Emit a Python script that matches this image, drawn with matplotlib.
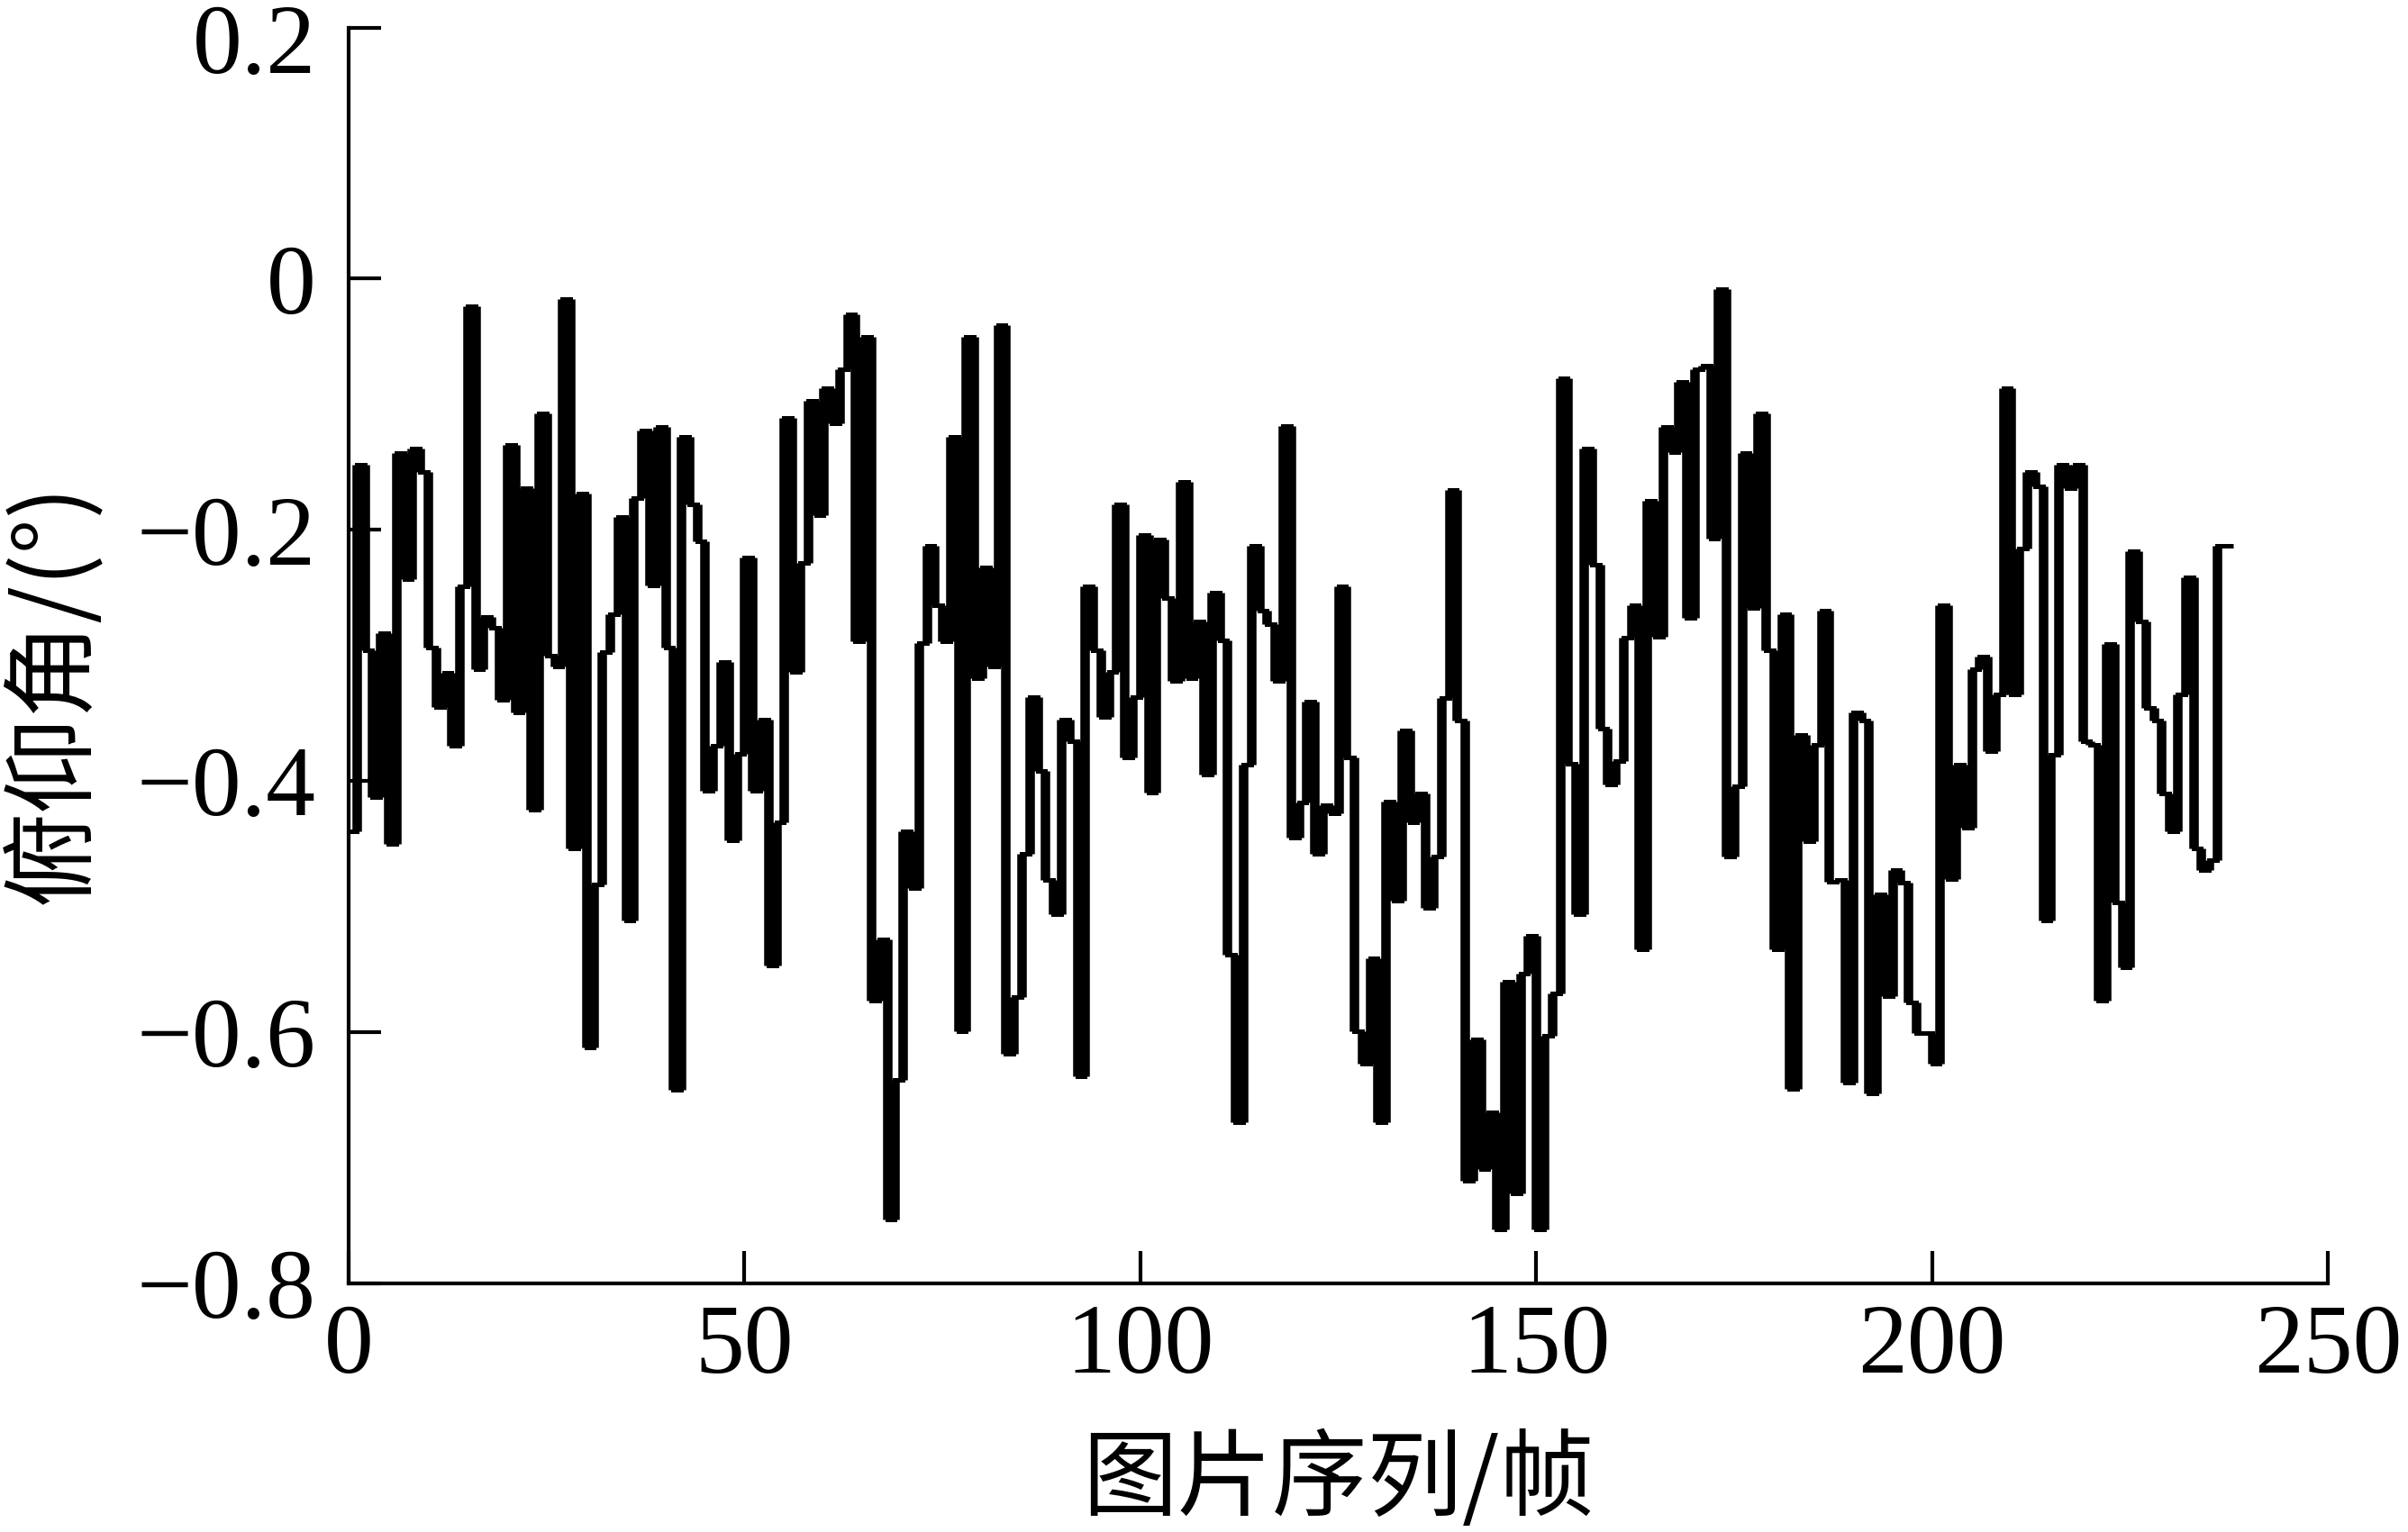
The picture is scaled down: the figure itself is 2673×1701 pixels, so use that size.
"""Pitch angle of each image frame, drawn as a stair line."""

import matplotlib

matplotlib.use("Agg")
import numpy as np
from matplotlib import pyplot as plt
from matplotlib import transforms as mtransforms

# pitch angle (deg) for frames 0..237
PITCH_DEG = [
    -0.440, -0.148, -0.296, -0.413, -0.282, -0.450, -0.139, -0.239, -0.135, -0.154,
    -0.294, -0.341, -0.314, -0.372, -0.245, -0.022, -0.311, -0.269, -0.278, -0.335,
    -0.132, -0.345, -0.167, -0.423, -0.107, -0.300, -0.309, -0.016, -0.454, -0.171,
    -0.612, -0.482, -0.297, -0.267, -0.190, -0.511, -0.175, -0.121, -0.244, -0.118,
    -0.294, -0.646, -0.126, -0.180, -0.209, -0.408, -0.372, -0.305, -0.447, -0.378,
    -0.222, -0.408, -0.351, -0.547, -0.433, -0.111, -0.313, -0.226, -0.097, -0.188,
    -0.087, -0.115, -0.072, -0.028, -0.289, -0.046, -0.575, -0.526, -0.749, -0.638,
    -0.440, -0.485, -0.290, -0.213, -0.260, -0.289, -0.126, -0.599, -0.046, -0.318,
    -0.230, -0.309, -0.037, -0.617, -0.572, -0.458, -0.333, -0.392, -0.479, -0.506,
    -0.351, -0.368, -0.635, -0.245, -0.296, -0.349, -0.313, -0.180, -0.381, -0.333,
    -0.204, -0.409, -0.208, -0.254, -0.320, -0.162, -0.318, -0.273, -0.395, -0.250,
    -0.288, -0.538, -0.672, -0.387, -0.213, -0.264, -0.275, -0.320, -0.117, -0.445,
    -0.417, -0.337, -0.458, -0.419, -0.426, -0.245, -0.381, -0.599, -0.625, -0.541,
    -0.672, -0.416, -0.495, -0.360, -0.433, -0.410, -0.501, -0.460, -0.334, -0.168,
    -0.352, -0.718, -0.606, -0.709, -0.664, -0.757, -0.560, -0.728, -0.553, -0.523,
    -0.757, -0.603, -0.569, -0.079, -0.386, -0.506, -0.135, -0.228, -0.358, -0.403,
    -0.384, -0.286, -0.260, -0.534, -0.177, -0.285, -0.118, -0.138, -0.082, -0.270,
    -0.072, -0.069, -0.207, -0.008, -0.460, -0.404, -0.139, -0.262, -0.107, -0.296,
    -0.534, -0.267, -0.645, -0.363, -0.448, -0.371, -0.264, -0.480, -0.479, -0.640,
    -0.345, -0.352, -0.649, -0.490, -0.571, -0.471, -0.481, -0.576, -0.601, -0.601,
    -0.625, -0.260, -0.478, -0.387, -0.437, -0.311, -0.301, -0.376, -0.331, -0.087,
    -0.331, -0.215, -0.154, -0.165, -0.511, -0.379, -0.148, -0.167, -0.148, -0.368,
    -0.371, -0.575, -0.291, -0.497, -0.548, -0.217, -0.273, -0.342, -0.352, -0.410,
    -0.440, -0.331, -0.238, -0.454, -0.471, -0.463, -0.213, -0.213,
]

X_TICKS = [0, 50, 100, 150, 200, 250]
Y_TICKS = [-0.8, -0.6, -0.4, -0.2, 0.0, 0.2]
Y_TICK_LABELS = ["\u22120.8", "\u22120.6", "\u22120.4", "\u22120.2", "0", "0.2"]
X_LABEL = "图片序列/帧"
Y_LABEL = "俯仰角/(°)"

NUM_FONT = "Liberation Serif"
CJK_FONT = ["Noto Sans CJK SC", "DejaVu Sans"]


def main() -> None:
    fig = plt.figure(figsize=(26.73, 17.01), dpi=100)
    ax = fig.add_axes([0.1448, 0.1623, 0.8219, 0.8197])

    values = np.asarray(PITCH_DEG)
    edges = np.arange(len(values) + 1)
    # flat runs are thin, the jumps between frames are drawn heavier
    ax.stairs(values, edges, baseline=None, color="black", linewidth=3.6)
    ax.vlines(edges[1:-1], values[:-1], values[1:], color="black", linewidth=7.6)

    ax.set_xlim(0, 250)
    ax.set_ylim(-0.8, 0.2)
    ax.set_xticks(X_TICKS)
    ax.set_yticks(Y_TICKS)
    ax.set_yticklabels(Y_TICK_LABELS)

    for side in ("top", "right"):
        ax.spines[side].set_visible(False)
    for side in ("left", "bottom"):
        ax.spines[side].set_linewidth(3.0)

    ax.tick_params(axis="both", direction="in", length=26, width=3.0, labelsize=79)
    ax.tick_params(axis="x", pad=16)
    ax.tick_params(axis="y", pad=26)
    for label in ax.get_xticklabels() + ax.get_yticklabels():
        label.set_family(NUM_FONT)
    # the top label sits a little low so it stays inside the picture
    top = ax.get_yticklabels()[-1]
    top.set_transform(top.get_transform()
                      + mtransforms.ScaledTranslation(0, -0.12, fig.dpi_scale_trans))

    ax.set_xlabel(X_LABEL, family=CJK_FONT, fontsize=76, va="center")
    ax.xaxis.set_label_coords(0.5, -0.158)
    ax.set_ylabel(Y_LABEL, family=CJK_FONT, fontsize=76, va="center")
    ax.yaxis.set_label_coords(-0.149, 0.47)

    fig.savefig("out.png", dpi=100)
    plt.close(fig)


if __name__ == "__main__":
    main()
